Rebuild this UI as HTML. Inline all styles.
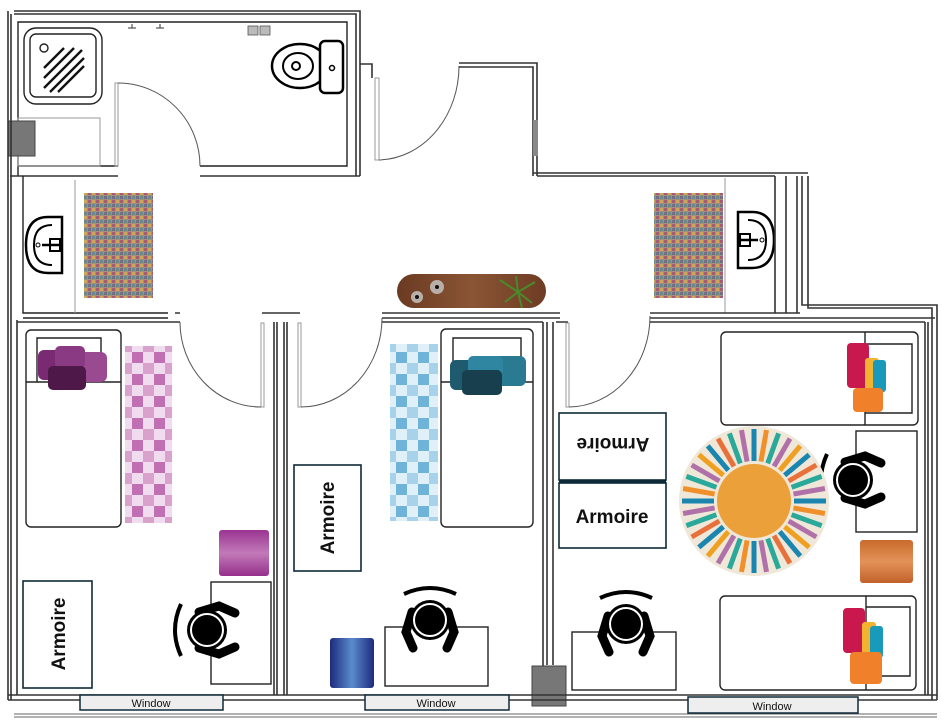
<!DOCTYPE html>
<html><head><meta charset="utf-8"><style>
html,body{margin:0;padding:0;background:#fff;width:942px;height:720px;overflow:hidden}
svg{display:block}
.w{stroke:#333;stroke-width:1.6;fill:none}
.t{stroke:#222;stroke-width:1.4;fill:none}
.g{stroke:#999;stroke-width:1;fill:none}
.arc{stroke:#555;stroke-width:1;fill:none}
.arm{font-family:"Liberation Sans",sans-serif;font-weight:bold;font-size:19px;fill:#111}
.win{font-family:"Liberation Sans",sans-serif;font-size:11px;fill:#111}
</style></head><body>
<svg width="942" height="720" viewBox="0 0 942 720" xmlns="http://www.w3.org/2000/svg">
<defs>
<pattern id="mosaic" width="8" height="8" patternUnits="userSpaceOnUse">
<rect width="8" height="8" fill="#9c927e"/><rect width="3" height="3" fill="#a85a7a"/><rect x="4" y="4" width="3" height="3" fill="#6a8a86"/><rect x="4" width="3" height="3" fill="#c9a856"/><rect y="4" width="3" height="3" fill="#7a6a8a"/>
</pattern>
<pattern id="pchk" width="22" height="22" patternUnits="userSpaceOnUse">
<rect width="22" height="22" fill="#f0dcee"/><rect width="11" height="11" fill="#c070b2"/><rect x="11" y="11" width="11" height="11" fill="#d8a2cd"/>
</pattern>
<pattern id="bchk" width="22" height="22" patternUnits="userSpaceOnUse">
<rect width="22" height="22" fill="#e0f0f8"/><rect width="11" height="11" fill="#6fb3d8"/><rect x="11" y="11" width="11" height="11" fill="#a8d2ea"/>
</pattern>
<linearGradient id="wood" x1="0" x2="1"><stop offset="0" stop-color="#6b3a22"/><stop offset="0.5" stop-color="#8a5535"/><stop offset="1" stop-color="#6e3c24"/></linearGradient>
<linearGradient id="purp" x1="0" x2="0" y1="0" y2="1"><stop offset="0" stop-color="#9a3592"/><stop offset="0.5" stop-color="#c27ab8"/><stop offset="1" stop-color="#962f8c"/></linearGradient>
<linearGradient id="blu" x1="0" x2="1"><stop offset="0" stop-color="#1e2a7e"/><stop offset="0.5" stop-color="#5a8ccc"/><stop offset="1" stop-color="#1e2a7e"/></linearGradient>
<linearGradient id="orn" x1="0" x2="0" y1="0" y2="1"><stop offset="0" stop-color="#c96a2c"/><stop offset="0.5" stop-color="#e39258"/><stop offset="1" stop-color="#c2612a"/></linearGradient>
<g id="chair">
<path d="M-26 -26 Q0 -38 26 -26" stroke="#000" stroke-width="4" fill="none"/>
<path d="M-18 -8 L-24 12 L-17 28" stroke="#000" stroke-width="9" stroke-linecap="round" fill="none"/>
<path d="M18 -8 L24 12 L17 28" stroke="#000" stroke-width="9" stroke-linecap="round" fill="none"/>
<circle r="20" fill="#000"/><circle r="16" fill="none" stroke="#fff" stroke-width="2"/>
</g>
<g id="sink">
<path d="M0 -28 Q-22 -28 -22 0 Q-22 28 0 28 L14 28 L14 -28 Z" stroke="#000" stroke-width="2.5" fill="#fff"/>
<path d="M4 -20 Q-14 -20 -14 0 Q-14 20 4 20" stroke="#000" stroke-width="2" fill="none"/>
<rect x="2" y="-6" width="10" height="12" stroke="#000" stroke-width="2" fill="#fff"/>
<line x1="-6" y1="0" x2="12" y2="0" stroke="#000" stroke-width="2.5"/>
<circle cx="-10" cy="0" r="2" stroke="#000" fill="none"/>
</g>
</defs>

<!-- BATHROOM -->
<path class="w" d="M14 11 H360 V176 M14 14 H356 V176"/>
<path class="t" d="M18 176 V22 H347 V166 H200 M118 166 H18"/>
<path class="w" d="M118 176 H10 M200 176 H360"/>
<rect x="24" y="28" width="78" height="76" rx="12" class="t" stroke-width="2.5"/>
<rect x="30" y="34" width="66" height="63" rx="6" class="t" stroke-width="2"/>
<circle cx="44" cy="48" r="4" class="t"/>
<g stroke="#111" stroke-width="2.4"><line x1="44" y1="88" x2="82" y2="50"/><line x1="50" y1="92" x2="84" y2="58"/><line x1="44" y1="78" x2="74" y2="48"/><line x1="58" y1="92" x2="84" y2="66"/><line x1="44" y1="68" x2="64" y2="48"/></g>
<rect x="18" y="118" width="82" height="48" class="g"/>
<rect x="8" y="121" width="27" height="35" fill="#777" stroke="#444"/>
<path d="M132 24 v4 M128 28 h8 M160 24 v4 M156 28 h8" stroke="#333" stroke-width="1"/>
<rect x="248" y="26" width="10" height="9" fill="#bbb" stroke="#555" stroke-width="0.8"/><rect x="260" y="26" width="10" height="9" fill="#bbb" stroke="#555" stroke-width="0.8"/>
<ellipse cx="300" cy="66" rx="28" ry="22" fill="#fff" stroke="#000" stroke-width="2.5"/>
<ellipse cx="298" cy="66" rx="15" ry="13" fill="none" stroke="#000" stroke-width="2"/>
<circle cx="296" cy="66" r="4" fill="none" stroke="#000" stroke-width="2"/>
<rect x="320" y="41" width="23" height="52" rx="5" fill="#fff" stroke="#000" stroke-width="2.5"/>
<circle cx="332" cy="68" r="2.5" fill="none" stroke="#000" stroke-width="1.5"/>
<!-- bathroom door -->
<rect x="115" y="83" width="3" height="83" class="g" stroke="#555"/>
<path class="arc" d="M118 83 A82 83 0 0 1 200 166"/>
<!-- entry -->
<rect x="375" y="78" width="4" height="82" class="g" stroke="#555"/>
<path class="w" d="M360 64 H372 V78"/>
<path class="arc" d="M459 66 A82 94 0 0 1 379 160"/>
<path class="w" d="M459 63 H537 V176 M459 67 H533 V176"/>
<rect x="533" y="120" width="5" height="36" fill="#888"/>
<path class="w" d="M533 173 H808 M537 176 H775"/>

<!-- CORRIDOR -->
<path class="w" d="M8 11 V700 M11 14 V700"/>
<path class="t" d="M23 176 V313 H168 M23 318 H168"/>
<line x1="75" y1="180" x2="75" y2="313" class="g"/>
<use href="#sink" x="48" y="245"/>
<rect x="84" y="193" width="69" height="105" fill="url(#mosaic)"/>
<rect x="654" y="193" width="69" height="105" fill="url(#mosaic)"/>
<line x1="725" y1="178" x2="725" y2="313" class="g"/>
<use href="#sink" x="752" y="240" transform="rotate(180 752 240)"/>
<path class="w" d="M775 176 V313 M786 176 V313 M797 176 V313 M802 176 V305 H937 V700 M808 176 V308 H932 V700"/>
<path class="w" d="M650 313 H800 M650 318 H935"/>
<path class="w" d="M175 313 H180 M262 313 H300 M382 313 H560 M382 318 H560"/>
<!-- console -->
<rect x="397" y="274" width="149" height="34" rx="17" fill="url(#wood)"/>
<circle cx="437" cy="287" r="7" fill="#b8b0a8"/><circle cx="437" cy="287" r="2" fill="#111"/>
<circle cx="417" cy="297" r="6" fill="#b8b0a8"/><circle cx="417" cy="297" r="2" fill="#111"/>
<g stroke="#4a8a2a" stroke-width="2"><line x1="518" y1="292" x2="500" y2="280"/><line x1="518" y1="292" x2="535" y2="282"/><line x1="518" y1="292" x2="505" y2="302"/><line x1="518" y1="292" x2="532" y2="303"/><line x1="518" y1="292" x2="516" y2="276"/><line x1="518" y1="292" x2="522" y2="308"/></g>

<!-- ROOM WALLS -->
<path class="w" d="M17 320 V695 M17 322 H180 M274 322 V695 M277 322 V695 M284 322 V695 M287 322 V695 M382 322 H543 M543 322 V695 M547 322 V665 M553 322 V665 M556 322 H568 M650 322 H925 M925 322 V695 M928 322 V695"/>
<!-- doors -->
<rect x="261" y="323" width="3" height="84" class="g" stroke="#555"/>
<path class="arc" d="M180 322 A81 85 0 0 0 261 407"/>
<rect x="298" y="323" width="3" height="84" class="g" stroke="#555"/>
<path class="arc" d="M382 318 A81 89 0 0 1 301 407"/>
<rect x="566" y="323" width="3" height="84" class="g" stroke="#555"/>
<path class="arc" d="M650 316 A82 91 0 0 1 569 407"/>

<!-- ROOM 1 -->
<rect x="26" y="330" width="95" height="197" rx="5" class="t"/>
<path class="t" d="M26 382 H121 M37 382 V338 H101 V382"/>
<g fill="#7a2a72"><rect x="38" y="350" width="40" height="30" rx="6"/><rect x="75" y="352" width="32" height="30" rx="6" fill="#9a4a90"/><rect x="55" y="346" width="30" height="22" rx="5" fill="#8a3a82"/><rect x="48" y="366" width="38" height="24" rx="5" fill="#4e1848"/></g>
<rect x="125" y="346" width="47" height="177" fill="url(#pchk)"/>
<rect x="219" y="530" width="50" height="46" rx="3" fill="url(#purp)"/>
<rect x="211" y="582" width="60" height="102" class="t" fill="#fff"/>
<use href="#chair" transform="translate(207 630) rotate(-90)"/>
<rect x="23" y="581" width="69" height="107" stroke="#0e2a38" stroke-width="1.6" fill="#fff"/>
<text class="arm" transform="translate(65 634) rotate(-90)" text-anchor="middle">Armoire</text>

<!-- ROOM 2 -->
<rect x="294" y="465" width="67" height="106" stroke="#0e2a38" stroke-width="1.6" fill="#fff"/>
<text class="arm" transform="translate(334 518) rotate(-90)" text-anchor="middle">Armoire</text>
<rect x="390" y="344" width="48" height="177" fill="url(#bchk)"/>
<rect x="441" y="329" width="92" height="198" rx="5" class="t"/>
<path class="t" d="M441 382 H533 M453 382 V338 H521 V382"/>
<g><rect x="450" y="360" width="35" height="30" rx="6" fill="#1f5a6e"/><rect x="478" y="356" width="48" height="30" rx="6" fill="#2a7a92"/><rect x="468" y="356" width="35" height="20" rx="5" fill="#2f86a0"/><rect x="462" y="370" width="40" height="25" rx="5" fill="#173f4e"/></g>
<rect x="330" y="638" width="44" height="50" rx="3" fill="url(#blu)"/>
<rect x="385" y="627" width="103" height="59" class="t" fill="#fff"/>
<use href="#chair" transform="translate(430 620)"/>

<!-- ROOM 3 -->
<rect x="559" y="413" width="107" height="67" stroke="#0e2a38" stroke-width="1.6" fill="#fff"/>
<rect x="559" y="483" width="107" height="65" stroke="#0e2a38" stroke-width="1.6" fill="#fff"/>
<line x1="559" y1="481.5" x2="666" y2="481.5" stroke="#0e2a38" stroke-width="3"/>
<text class="arm" transform="translate(613 438) rotate(180)" text-anchor="middle">Armoire</text>
<text class="arm" x="612" y="523" text-anchor="middle">Armoire</text>
<rect x="721" y="332" width="197" height="93" rx="5" class="t"/>
<path class="t" d="M865 332 V425 M865 344 H912 V413 H865"/>
<g><rect x="847" y="343" width="22" height="45" rx="4" fill="#c8184e"/><rect x="865" y="358" width="14" height="35" rx="3" fill="#f2b430"/><rect x="873" y="360" width="13" height="32" rx="3" fill="#1a9aba"/><rect x="853" y="388" width="30" height="24" rx="4" fill="#f0802a"/></g>
<rect x="856" y="431" width="61" height="101" class="t" fill="#fff"/>
<use href="#chair" transform="translate(853 480) rotate(-90)"/>
<!-- sunburst rug -->
<g transform="translate(754 501)">
<circle r="75" fill="#efe7d8"/>
<g id="rays" stroke-width="5">
<line x1="0" y1="-40" x2="0" y2="-72" stroke="#1a86b0" transform="rotate(0)"/>
<line x1="0" y1="-40" x2="0" y2="-72" stroke="#f0902a" transform="rotate(10)"/>
<line x1="0" y1="-40" x2="0" y2="-72" stroke="#2aa89a" transform="rotate(20)"/>
<line x1="0" y1="-40" x2="0" y2="-72" stroke="#b070a8" transform="rotate(30)"/>
<line x1="0" y1="-40" x2="0" y2="-72" stroke="#f0a020" transform="rotate(40)"/>
<line x1="0" y1="-40" x2="0" y2="-72" stroke="#1a86b0" transform="rotate(50)"/>
<line x1="0" y1="-40" x2="0" y2="-72" stroke="#e8703a" transform="rotate(60)"/>
<line x1="0" y1="-40" x2="0" y2="-72" stroke="#2aa89a" transform="rotate(70)"/>
<line x1="0" y1="-40" x2="0" y2="-72" stroke="#b070a8" transform="rotate(80)"/>
</g>
<use href="#rays" transform="rotate(90)"/><use href="#rays" transform="rotate(180)"/><use href="#rays" transform="rotate(270)"/>
<circle r="37" fill="#eba03a"/>
</g>
<rect x="860" y="540" width="53" height="43" rx="3" fill="url(#orn)"/>
<rect x="720" y="596" width="196" height="94" rx="5" class="t"/>
<path class="t" d="M866 596 V690 M866 607 H910 V676 H866"/>
<g><rect x="843" y="608" width="22" height="45" rx="4" fill="#c8184e"/><rect x="862" y="622" width="14" height="35" rx="3" fill="#f2b430"/><rect x="870" y="626" width="13" height="32" rx="3" fill="#1a9aba"/><rect x="850" y="652" width="32" height="32" rx="4" fill="#f0802a"/></g>
<rect x="572" y="632" width="104" height="58" class="t" fill="#fff"/>
<use href="#chair" transform="translate(626 624)"/>
<rect x="532" y="666" width="34" height="40" fill="#777" stroke="#444"/>

<!-- BOTTOM WALL & WINDOWS -->
<path class="w" d="M8 695 H937 M8 700 H937"/>
<path stroke="#666" stroke-width="1" d="M14 714 H937 M14 717 H937"/>
<rect x="80" y="695" width="143" height="15" fill="#eee" stroke="#0e2a38" stroke-width="1.5"/>
<text class="win" x="151" y="707" text-anchor="middle">Window</text>
<rect x="365" y="695" width="144" height="15" fill="#eee" stroke="#0e2a38" stroke-width="1.5"/>
<text class="win" x="436" y="707" text-anchor="middle">Window</text>
<rect x="688" y="697" width="170" height="16" fill="#eee" stroke="#0e2a38" stroke-width="1.5"/>
<text class="win" x="772" y="710" text-anchor="middle">Window</text>
</svg>
</body></html>
